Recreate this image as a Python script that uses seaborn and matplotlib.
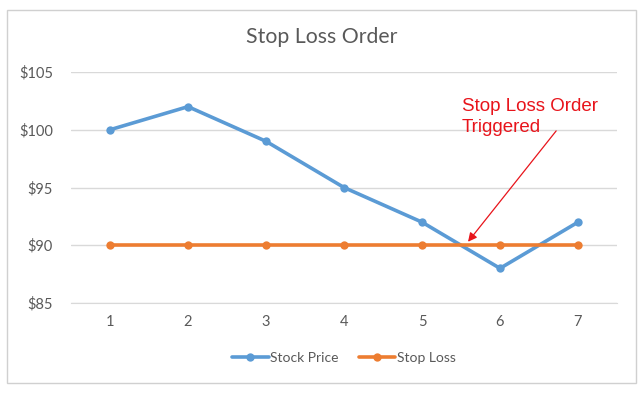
import matplotlib
matplotlib.use("Agg")
import matplotlib.pyplot as plt
import seaborn as sns
import pandas as pd
from matplotlib.patches import Rectangle

# chart data
periods = [1, 2, 3, 4, 5, 6, 7]
stock_price = [100, 102, 99, 95, 92, 88, 92]
stop_loss = [90, 90, 90, 90, 90, 90, 90]
series_names = ["Stock Price", "Stop Loss"]
y_ticks = [85, 90, 95, 100, 105]

df = pd.DataFrame({
    "period": periods * 2,
    "price": stock_price + stop_loss,
    "series": [series_names[0]] * len(periods) + [series_names[1]] * len(periods),
})

sns.set_style("white")
plt.rcParams["font.family"] = ["Lato", "DejaVu Sans"]

fig = plt.figure(figsize=(6.44, 3.93), dpi=100)
ax = fig.add_axes([71 / 644, 1 - 303 / 393, 546 / 644, 231 / 393])

# outer chart border
fig.patches.append(Rectangle((7 / 644, 10 / 393), 629 / 644, 373 / 393,
                             transform=fig.transFigure, fill=False,
                             edgecolor="#d0d0d0", linewidth=1))

sns.lineplot(data=df, x="period", y="price", hue="series",
             palette=["#5B9BD5", "#ED7D31"], marker="o", markersize=6,
             markeredgewidth=0, linewidth=2.6, ax=ax)

ax.set_xlim(0.5, 7.5)
ax.set_ylim(85, 105)
ax.set_yticks(y_ticks)
ax.set_yticklabels([f"${v}" for v in y_ticks])
ax.set_xticks(periods)
ax.set_xlabel("")
ax.set_ylabel("")
ax.grid(axis="y", color="#d9d9d9", linewidth=1)
ax.set_axisbelow(True)
for s in ax.spines.values():
    s.set_visible(False)
ax.spines["bottom"].set_visible(True)
ax.spines["bottom"].set_color("#d9d9d9")
ax.tick_params(colors="#595959", labelsize=10.5, length=0)
ax.tick_params(axis="y", pad=13)
ax.tick_params(axis="x", pad=9)

fig.text(0.5, 1 - 37 / 393, "Stop Loss Order", ha="center", va="center",
         fontsize=15.3, color="#595959")

red = "#e8141b"
ax.text(5.51, 102.75, "Stop Loss Order\nTriggered", ha="left", va="top",
        fontsize=13.5, color=red, family=["Liberation Sans", "DejaVu Sans"],
        linespacing=1.3)
ax.annotate("", xy=(5.59, 90.3), xytext=(6.72, 99.9),
            arrowprops=dict(arrowstyle="-|>", color=red, lw=0.9,
                            shrinkA=0, shrinkB=0, mutation_scale=13))

leg = ax.legend(loc="center", bbox_to_anchor=(0.5, -0.238), ncol=2,
                frameon=False, fontsize=10, handlelength=2.6,
                handletextpad=0.1, columnspacing=1.5)
for t in leg.get_texts():
    t.set_color("#595959")

fig.savefig("out.png", dpi=100)
